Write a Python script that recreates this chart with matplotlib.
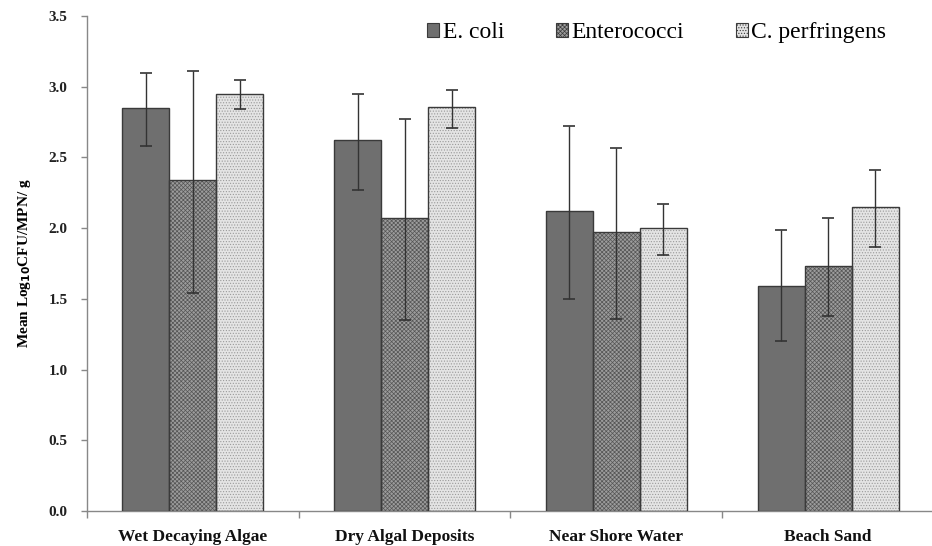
import matplotlib
matplotlib.use("Agg")
import matplotlib.pyplot as plt
from matplotlib.patches import Patch
import numpy as np

categories = ["Wet Decaying Algae", "Dry Algal Deposits", "Near Shore Water", "Beach Sand"]
series = ["E. coli", "Enterococci", "C. perfringens"]
means = {
    "E. coli":        [2.85, 2.62, 2.12, 1.59],
    "Enterococci":    [2.34, 2.07, 1.97, 1.73],
    "C. perfringens": [2.95, 2.86, 2.00, 2.15],
}
err_low = {
    "E. coli":        [2.58, 2.27, 1.50, 1.20],
    "Enterococci":    [1.54, 1.35, 1.36, 1.38],
    "C. perfringens": [2.84, 2.71, 1.81, 1.87],
}
err_high = {
    "E. coli":        [3.10, 2.95, 2.72, 1.99],
    "Enterococci":    [3.11, 2.77, 2.57, 2.07],
    "C. perfringens": [3.05, 2.98, 2.17, 2.41],
}
yticks = [0.0, 0.5, 1.0, 1.5, 2.0, 2.5, 3.0, 3.5]

styles = {
    "E. coli":        dict(face="#6f6f6f", hatch=None, hcol="#5a5a5a"),
    "Enterococci":    dict(face="#9c9c9c", hatch="xxxxxxxx", hcol="#555555"),
    "C. perfringens": dict(face="#e4e4e4", hatch="......", hcol="#9a9a9a"),
}

SERIF = ["Liberation Serif", "DejaVu Serif"]
plt.rcParams["font.family"] = SERIF
plt.rcParams["hatch.linewidth"] = 0.5

fig = plt.figure(figsize=(9.32, 5.46), dpi=100)
ax = fig.add_axes([87/932, 1 - 511/546, 1 - 87/932 + 0.002, (511 - 16)/546])

x = np.arange(len(categories))
w = 0.222
for i, s in enumerate(series):
    pos = x + (i - 1) * w
    st = styles[s]
    m = np.array(means[s])
    lo = m - np.array(err_low[s])
    hi = np.array(err_high[s]) - m
    ax.bar(pos, m, w, color=st["face"], hatch=st["hatch"], edgecolor=st["hcol"],
           linewidth=0, zorder=2)
    ax.bar(pos, m, w, fill=False, edgecolor="#3a3a3a", linewidth=1.0, zorder=3)
    ax.errorbar(pos, m, yerr=[lo, hi], fmt="none", ecolor="#333333",
                elinewidth=1.0, capsize=4, capthick=1.2, zorder=4)

ax.set_xlim(-0.5, 3.5)
ax.set_ylim(0, 3.5)
ax.set_yticks(yticks)
ax.set_yticklabels([f"{v:.1f}" for v in yticks], fontsize=11, fontweight="bold", color="#222222")
ax.set_xticks(x)
ax.set_xticklabels(categories, fontsize=12.5, fontweight="bold", color="#111111")
ax.set_xticks(np.arange(-0.5, 3.6, 1.0), minor=True)
ax.tick_params(axis="x", which="major", length=0, pad=13)
ax.tick_params(axis="x", which="minor", length=5, width=1, color="#888888", direction="out")
ax.tick_params(axis="y", length=4, width=1, color="#888888", pad=10)

for sp in ["top", "right"]:
    ax.spines[sp].set_visible(False)
for sp in ["left", "bottom"]:
    ax.spines[sp].set_color("#888888")
    ax.spines[sp].set_linewidth(1.0)

ax.set_ylabel(r"Mean Log$_{\mathbf{10}}$CFU/MPN/ g", fontsize=11, fontweight="bold", labelpad=11)

handles = []
for s in series:
    st = styles[s]
    handles.append(Patch(facecolor=st["face"], hatch=st["hatch"], edgecolor="#3a3a3a", linewidth=0.8))
leg = ax.legend(handles, series, ncol=3, loc="upper right", bbox_to_anchor=(0.969, 1.03),
                frameon=False, fontsize=17, handlelength=0.5, handleheight=0.55,
                handletextpad=0.15, columnspacing=2.2)

fig.savefig("out.png", dpi=100)
